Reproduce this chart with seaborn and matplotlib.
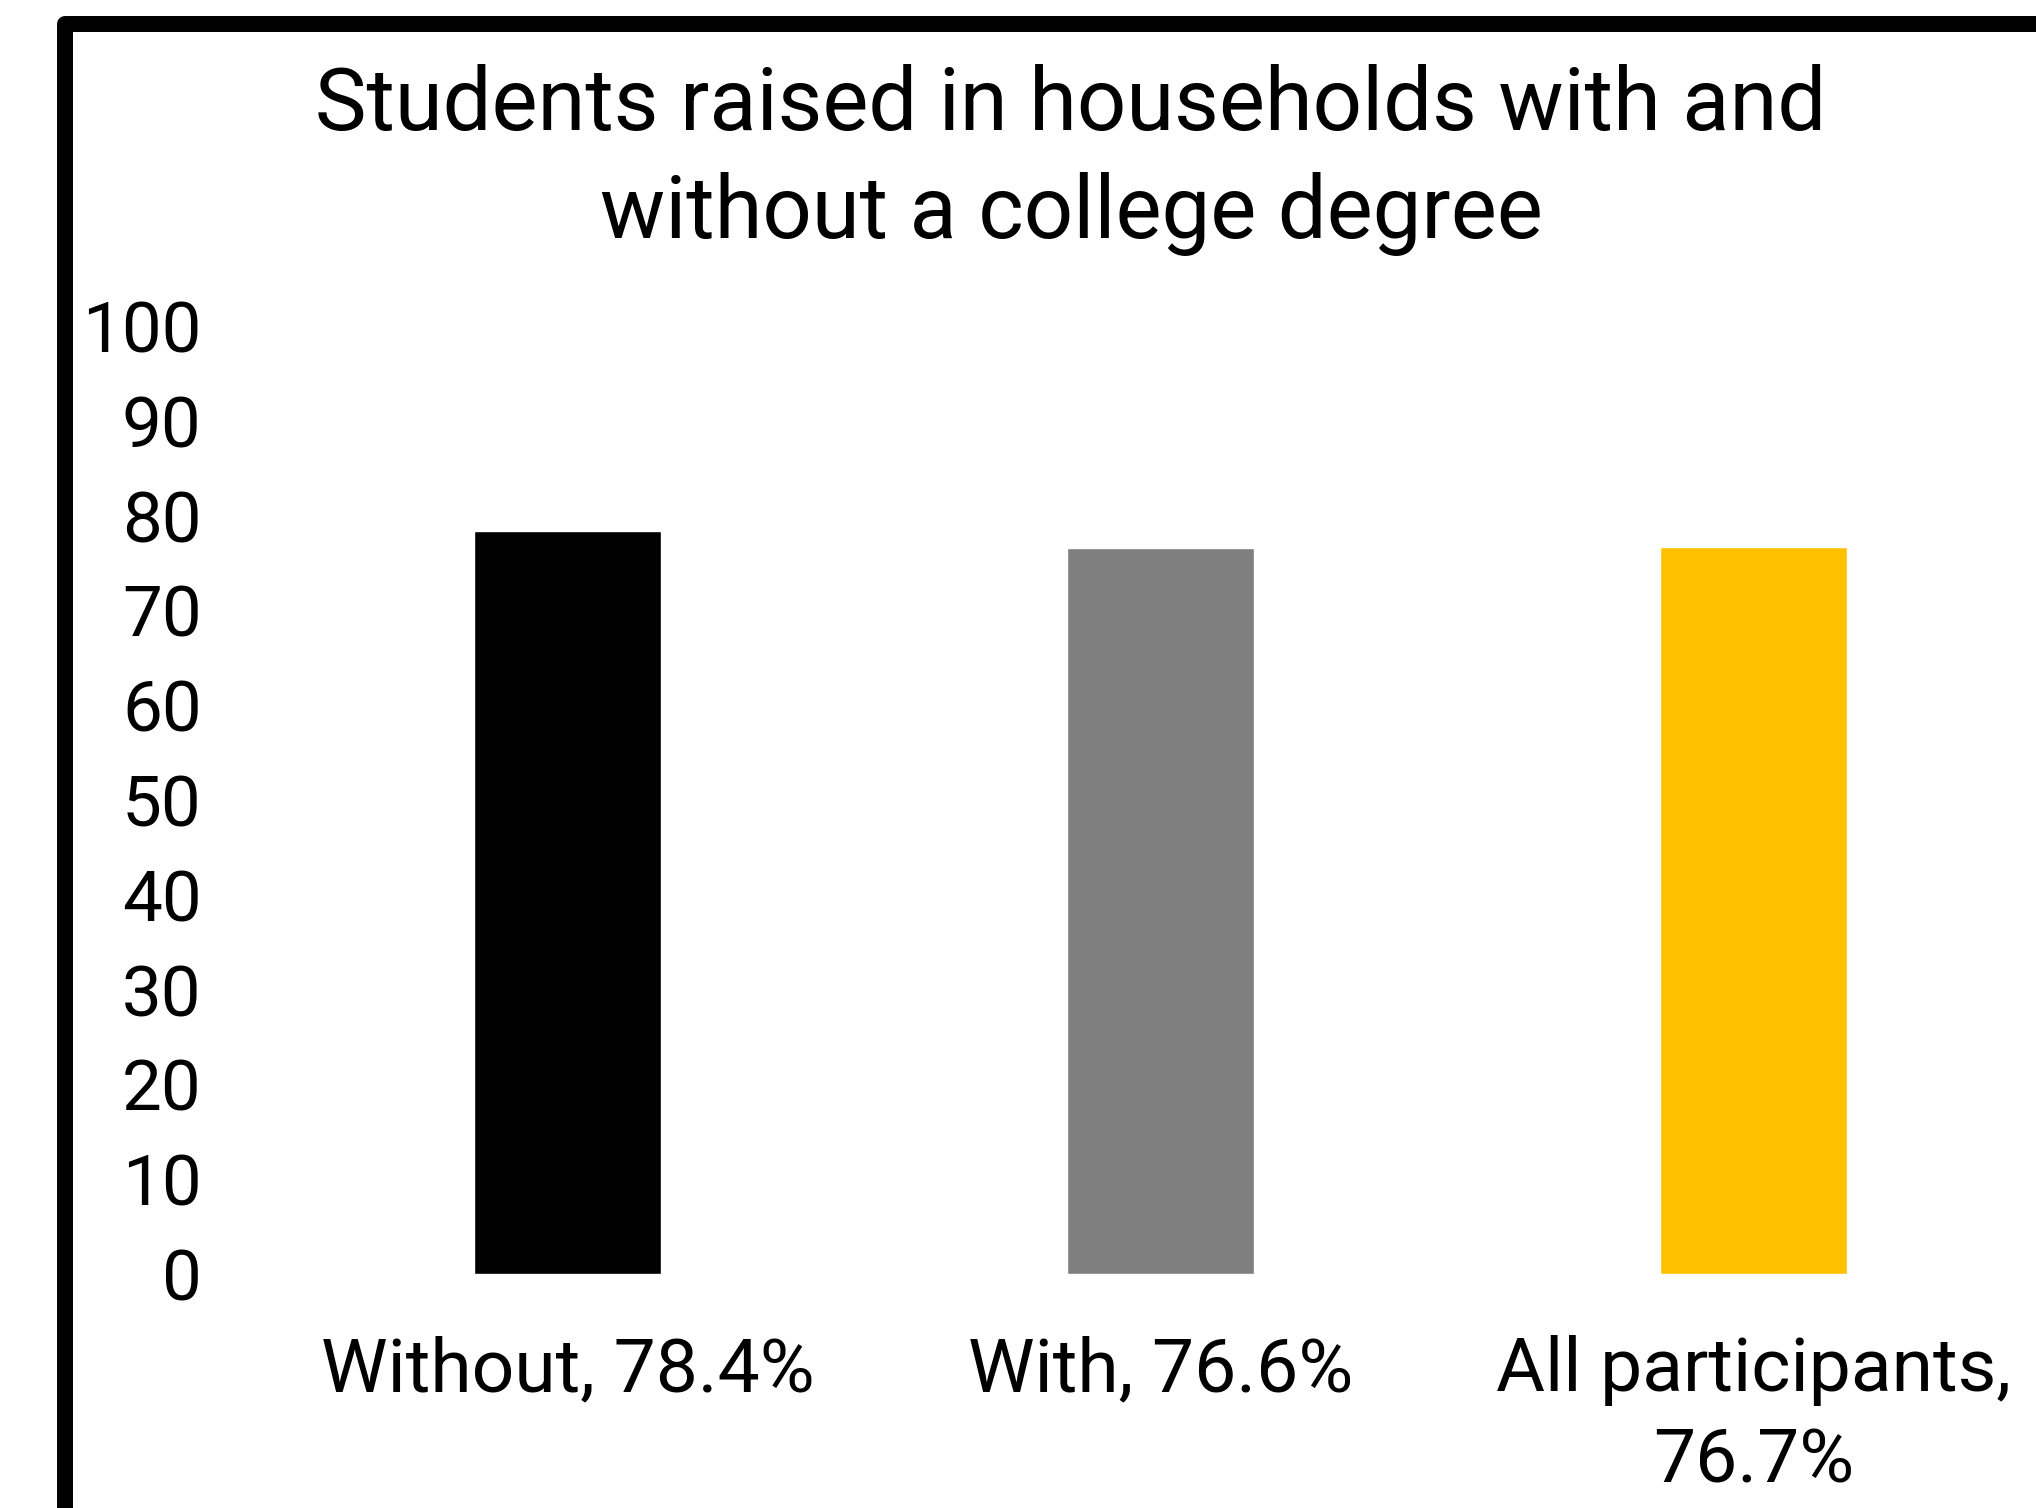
import pandas as pd
import seaborn as sns
from matplotlib import pyplot as plt
from matplotlib.patches import Rectangle

categories = ['Without, 78.4%', 'With, 76.6%', 'All participants,\n76.7%']
values = [78.4, 76.6, 76.7]
colors = ['#000000', '#7f7f7f', '#ffc000']
yticks = [0, 10, 20, 30, 40, 50, 60, 70, 80, 90, 100]
title = 'Students raised in households with and\nwithout a college degree'

sns.set_style('white')
plt.rcParams['font.family'] = ['Roboto', 'DejaVu Sans']
plt.rcParams['text.color'] = 'black'
plt.rcParams['xtick.color'] = 'black'
plt.rcParams['ytick.color'] = 'black'

d = pd.DataFrame({'group': categories, 'pct': values})

fig = plt.figure(figsize=(20.36, 15.08), dpi=100)
ax = fig.add_axes([0.1331, 0.1552, 0.8738, 0.6286])
sns.barplot(data=d, x='group', y='pct', hue='group', palette=colors,
            width=0.314, legend=False, ax=ax, saturation=1)

ax.set_ylim(0, 100)
ax.set_xlim(-0.5, 2.5)
ax.set_yticks(yticks)
ax.set_yticklabels([str(t) for t in yticks], fontsize=51)
ax.tick_params(axis='y', length=0, pad=50)
ax.tick_params(axis='x', length=0, pad=44)
for lab in ax.get_xticklabels():
    lab.set_fontsize(54)
    lab.set_linespacing(1.36)
ax.set_xlabel('')
ax.set_ylabel('')
for s in ax.spines.values():
    s.set_visible(False)

# title, two lines placed by baseline
lines = title.split('\n')
fig.text(0.526, 1 - 130 / 1508, lines[0], ha='center', va='baseline', fontsize=62.5)
fig.text(0.526, 1 - 238 / 1508, lines[1], ha='center', va='baseline', fontsize=62.5)

# outer frame, cropped on the right and bottom
fig.patches.append(Rectangle((64.5 / 2036, -0.1), 1.2, (1508 - 24) / 1508 + 0.1,
                             transform=fig.transFigure, fill=False,
                             edgecolor='black', linewidth=11.5,
                             joinstyle='round'))

fig.savefig('out.png', dpi=100)
